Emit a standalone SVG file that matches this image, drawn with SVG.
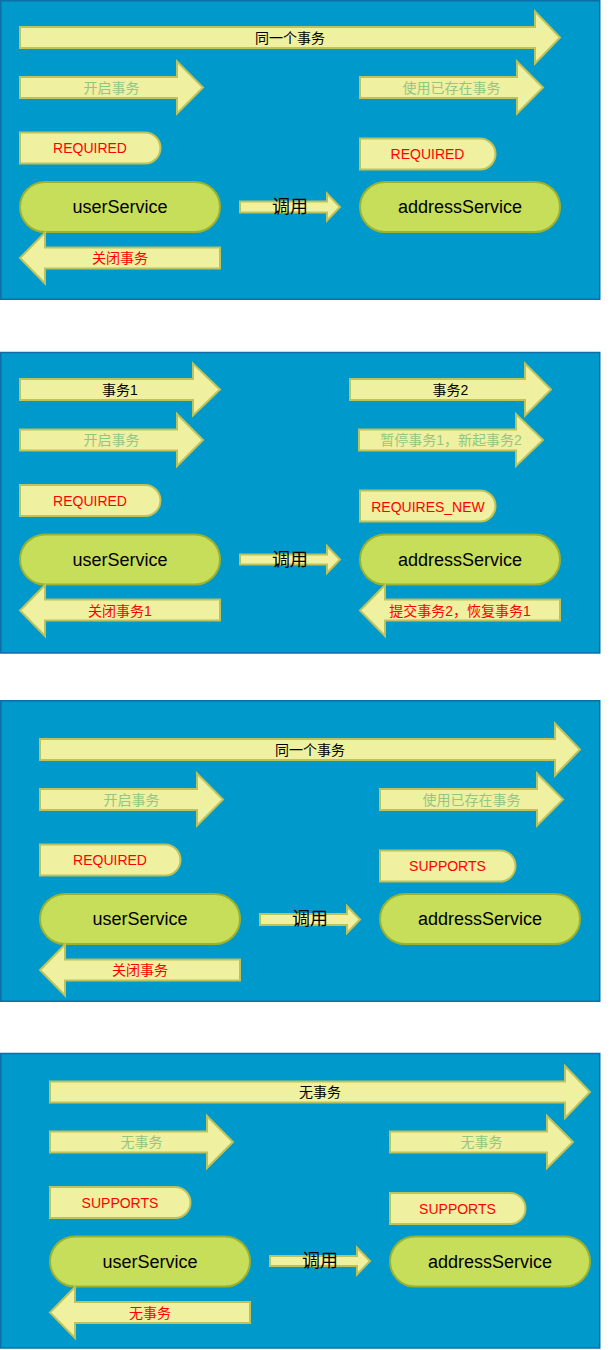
<svg xmlns="http://www.w3.org/2000/svg" width="610" height="1350" viewBox="0 0 610 1350">
<style>
.panel{fill:#0099CC;stroke:#0E6FA6;stroke-width:1.5}
.ya{fill:#EFF1A0;stroke:#BDC25A;stroke-width:2;stroke-linejoin:miter}
.svc{fill:#C7DE5A;stroke:#9CB22C;stroke-width:2}
text{font-family:"Liberation Sans","Noto Sans CJK SC",sans-serif;text-anchor:middle;dominant-baseline:central}
.t14{font-size:14px}
.t18{font-size:18px}
.blk{fill:#000}
.grn{fill:#93C683}
.red{fill:#FF0000}
</style>
<g id="panels">
<rect class="panel" x="0.75" y="0.75" width="599" height="298.5"/>
<rect class="panel" x="0.75" y="352.5" width="599" height="300.5"/>
<rect class="panel" x="0.75" y="700.75" width="599" height="300.5"/>
<rect class="panel" x="0.75" y="1053.5" width="599" height="294.5"/>
</g>

<!-- Panel 1 -->
<g id="p1">
<g id="p1-same"><polygon class="ya" points="20,27 535,27 535,11.5 560,37.5 535,63.5 535,48 20,48"/><text class="t14 blk" x="290" y="37.5">同一个事务</text></g>
<g id="p1-open"><polygon class="ya" points="20,77 177,77 177,61.5 203,87.5 177,113.5 177,98 20,98"/><text class="t14 grn" x="111.5" y="87.5">开启事务</text></g>
<g id="p1-use"><polygon class="ya" points="360,77 517,77 517,61.5 543,87.5 517,113.5 517,98 360,98"/><text class="t14 grn" x="451.5" y="87.5">使用已存在事务</text></g>
<g id="p1-req1"><path class="ya" d="M20,132.5 H145 A15.5,15.5 0 0 1 145,163.5 H20 Z"/><text class="t14 red" x="90" y="148">REQUIRED</text></g>
<g id="p1-req2"><path class="ya" d="M360,138.5 H480 A15.5,15.5 0 0 1 480,169.5 H360 Z"/><text class="t14 red" x="427.5" y="154">REQUIRED</text></g>
<g id="p1-user"><rect class="svc" x="20" y="182" width="200" height="50" rx="25"/><text class="t18 blk" x="120" y="207">userService</text></g>
<g id="p1-addr"><rect class="svc" x="360" y="182" width="200" height="50" rx="25"/><text class="t18 blk" x="460" y="207">addressService</text></g>
<g id="p1-close"><polygon class="ya" points="220,247.5 45,247.5 45,232.5 20,258 45,283.5 45,268.5 220,268.5"/><text class="t14 red" x="120" y="258">关闭事务</text></g>
</g>

<!-- Panel 2 -->
<g id="p2">
<g id="p2-tx1"><polygon class="ya" points="20,379 193,379 193,363.5 220,389.5 193,415.5 193,400 20,400"/><text class="t14 blk" x="120" y="389.5">事务1</text></g>
<g id="p2-tx2"><polygon class="ya" points="350,379 525,379 525,363.5 551,389.5 525,415.5 525,400 350,400"/><text class="t14 blk" x="450.5" y="389.5">事务2</text></g>
<g id="p2-open"><polygon class="ya" points="20,429.5 177,429.5 177,414 203,440 177,466 177,450.5 20,450.5"/><text class="t14 grn" x="111.5" y="440">开启事务</text></g>
<g id="p2-suspend"><polygon class="ya" points="359,429.5 516,429.5 516,414 543,440 516,466 516,450.5 359,450.5"/><text class="t14 grn" x="451" y="440">暂停事务1，新起事务2</text></g>
<g id="p2-req"><path class="ya" d="M20,485 H145 A15.5,15.5 0 0 1 145,516 H20 Z"/><text class="t14 red" x="90" y="500.5">REQUIRED</text></g>
<g id="p2-reqnew"><path class="ya" d="M360,490.5 H480 A15.5,15.5 0 0 1 480,521.5 H360 Z"/><text class="t14 red" x="428" y="506.5">REQUIRES_NEW</text></g>
<g id="p2-user"><rect class="svc" x="20" y="534.5" width="200" height="50" rx="25"/><text class="t18 blk" x="120" y="559.5">userService</text></g>
<g id="p2-addr"><rect class="svc" x="360" y="534.5" width="200" height="50" rx="25"/><text class="t18 blk" x="460" y="559.5">addressService</text></g>
<g id="p2-close"><polygon class="ya" points="220,599.5 45,599.5 45,585 20,610.5 45,636 45,620.5 220,620.5"/><text class="t14 red" x="120" y="610.5">关闭事务1</text></g>
<g id="p2-commit"><polygon class="ya" points="560,599.5 385,599.5 385,585 360,610.5 385,636 385,620.5 560,620.5"/><text class="t14 red" x="460" y="610.5">提交事务2，恢复事务1</text></g>
</g>

<!-- Panel 3 -->
<g id="p3">
<g id="p3-same"><polygon class="ya" points="40,739 555,739 555,723.5 580,749.5 555,775.5 555,760 40,760"/><text class="t14 blk" x="310" y="749.5">同一个事务</text></g>
<g id="p3-open"><polygon class="ya" points="40,789 197,789 197,773.5 223,799.5 197,825.5 197,810 40,810"/><text class="t14 grn" x="131.5" y="799.5">开启事务</text></g>
<g id="p3-use"><polygon class="ya" points="380,789 537,789 537,773.5 563,799.5 537,825.5 537,810 380,810"/><text class="t14 grn" x="471.5" y="799.5">使用已存在事务</text></g>
<g id="p3-req"><path class="ya" d="M40,844.5 H165 A15.5,15.5 0 0 1 165,875.5 H40 Z"/><text class="t14 red" x="110" y="860">REQUIRED</text></g>
<g id="p3-sup"><path class="ya" d="M380,850.5 H500 A15.5,15.5 0 0 1 500,881.5 H380 Z"/><text class="t14 red" x="447.5" y="866">SUPPORTS</text></g>
<g id="p3-user"><rect class="svc" x="40" y="894" width="200" height="50" rx="25"/><text class="t18 blk" x="140" y="919">userService</text></g>
<g id="p3-addr"><rect class="svc" x="380" y="894" width="200" height="50" rx="25"/><text class="t18 blk" x="480" y="919">addressService</text></g>
<g id="p3-close"><polygon class="ya" points="240,959.5 65,959.5 65,944.5 40,970 65,995.5 65,980.5 240,980.5"/><text class="t14 red" x="140" y="970">关闭事务</text></g>
</g>

<!-- Panel 4 -->
<g id="p4">
<g id="p4-none"><polygon class="ya" points="50,1081.5 565,1081.5 565,1066 590,1092 565,1118 565,1102.5 50,1102.5"/><text class="t14 blk" x="320" y="1092">无事务</text></g>
<g id="p4-none1"><polygon class="ya" points="50,1131.5 207,1131.5 207,1116 233,1142 207,1168 207,1152.5 50,1152.5"/><text class="t14 grn" x="141.5" y="1142">无事务</text></g>
<g id="p4-none2"><polygon class="ya" points="390,1131.5 547,1131.5 547,1116 573,1142 547,1168 547,1152.5 390,1152.5"/><text class="t14 grn" x="481.5" y="1142">无事务</text></g>
<g id="p4-sup1"><path class="ya" d="M50,1187 H175 A15.5,15.5 0 0 1 175,1218 H50 Z"/><text class="t14 red" x="120" y="1202.5">SUPPORTS</text></g>
<g id="p4-sup2"><path class="ya" d="M390,1193 H510 A15.5,15.5 0 0 1 510,1224 H390 Z"/><text class="t14 red" x="457.5" y="1208.5">SUPPORTS</text></g>
<g id="p4-user"><rect class="svc" x="50" y="1236.5" width="200" height="50" rx="25"/><text class="t18 blk" x="150" y="1261.5">userService</text></g>
<g id="p4-addr"><rect class="svc" x="390" y="1236.5" width="200" height="50" rx="25"/><text class="t18 blk" x="490" y="1261.5">addressService</text></g>
<g id="p4-close"><polygon class="ya" points="250,1302 75,1302 75,1287 50,1312.5 75,1338 75,1323 250,1323"/><text class="t14 red" x="150" y="1312.5">无事务</text></g>
</g>

<!-- Connectors: 调用 arrows -->
<g id="connectors">
<g id="c1"><polygon class="ya" points="240,201.5 327,201.5 327,193.5 340,207 327,220.5 327,212.5 240,212.5"/><text class="t18 blk" x="290" y="207">调用</text></g>
<g id="c2"><polygon class="ya" points="240,554.5 327,554.5 327,546 340,559.5 327,573 327,564.5 240,564.5"/><text class="t18 blk" x="290" y="559.5">调用</text></g>
<g id="c3"><polygon class="ya" points="260,914 347,914 347,906 360,919.5 347,933 347,925 260,925"/><text class="t18 blk" x="310" y="919">调用</text></g>
<g id="c4"><polygon class="ya" points="270,1256 357,1256 357,1247.5 370,1261 357,1274.5 357,1266 270,1266"/><text class="t18 blk" x="320" y="1261">调用</text></g>
</g>
</svg>
